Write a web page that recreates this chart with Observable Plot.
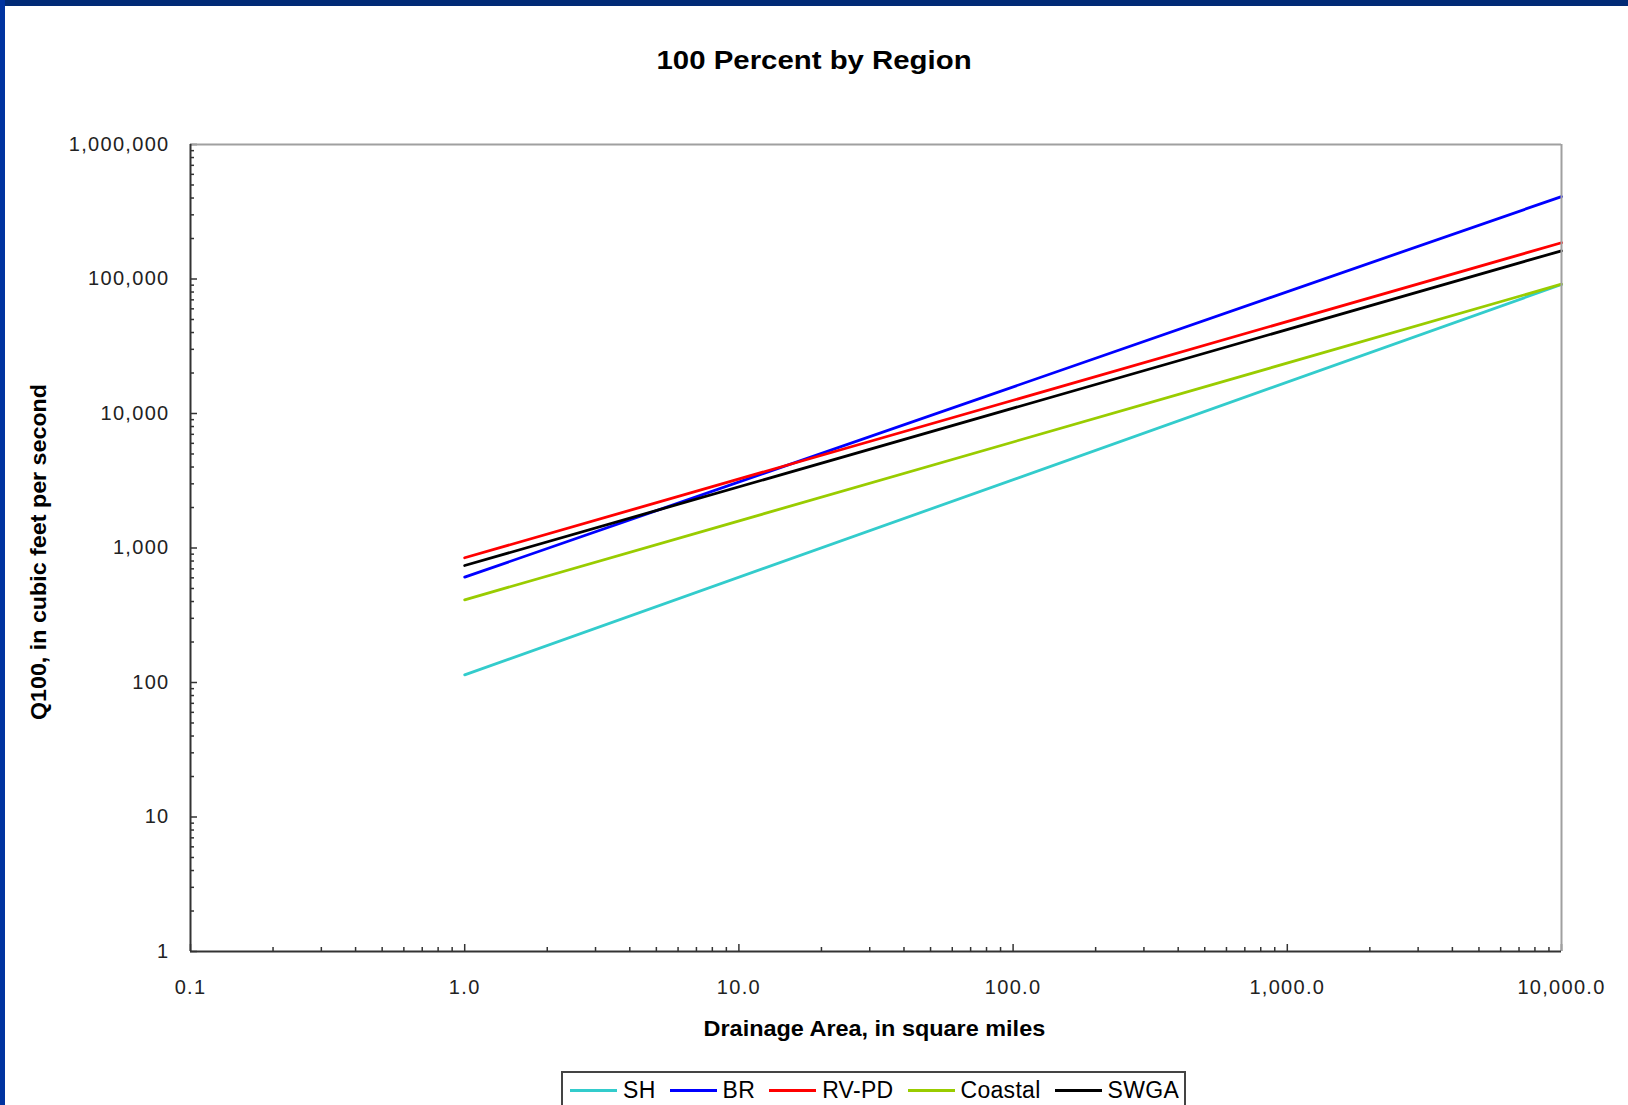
<!DOCTYPE html>
<html>
<head>
<meta charset="utf-8">
<script src="https://cdn.jsdelivr.net/npm/d3@7"></script>
<script src="https://cdn.jsdelivr.net/npm/@observablehq/plot@0.6"></script>
<style>
  html, body { margin: 0; padding: 0; background: #fff; overflow: hidden; }
  body { width: 1628px; height: 1105px; position: relative; font-family: "Liberation Sans", Arial, sans-serif; }
  #chart { position: absolute; left: 0; top: 0; }
  #chart svg text { letter-spacing: 1.3px; }
  .band-top { position: absolute; left: 0; top: 0; width: 1628px; height: 6px; background: #012a76; }
  .band-left { position: absolute; left: 0; top: 0; width: 5px; height: 1105px; background: #0033a0; }
  .title { position: absolute; top: 48px; left: 0; width: 1628px; text-align: center; font-weight: bold; font-size: 25px; line-height: 25px; color: #000; }
  .title span { display: inline-block; transform: scaleX(1.175); }
  .xlabel { position: absolute; top: 1018px; left: 0; width: 1748px; text-align: center; font-weight: bold; font-size: 22px; line-height: 22px; color: #000; }
  .xlabel span { display: inline-block; transform: scaleX(1.065); }
  .ylabel { position: absolute; left: 39px; top: 552px; width: 400px; margin-left: -200px; margin-top: -11px; text-align: center; font-weight: bold; font-size: 22px; line-height: 22px; color: #000; transform: rotate(-90deg) scaleX(1.057); }
  .legend { position: absolute; left: 561px; top: 1071px; width: 625px; height: 44px; border: 2px solid #444; box-sizing: border-box; background: #fff; display: flex; align-items: center; padding-left: 7px; padding-bottom: 5px; }
  .legend .item { display: flex; align-items: center; margin-right: 14px; font-size: 23px; letter-spacing: 0.3px; color: #000; }
  .legend .item:last-child { margin-right: 0; }
  .legend .swatch { width: 47px; height: 3px; margin-right: 6px; }
</style>
</head>
<body>
<div id="chart"></div>
<div class="band-top"></div>
<div class="band-left"></div>
<div class="title"><span>100 Percent by Region</span></div>
<div class="xlabel"><span>Drainage Area, in square miles</span></div>
<div class="ylabel">Q100, in cubic feet per second</div>
<div class="legend" id="legend"></div>
<script>
// Drainage area endpoints (square miles)
const areas = [1, 10000];
// Q100 (cfs) at those drainage areas, by region
const qSH = [114, 91000];
const qBR = [607, 410000];
const qRVPD = [846, 186000];
const qCoastal = [412, 91500];
const qSWGA = [741, 162000];

const seriesNames = ["SH", "BR", "RV-PD", "Coastal", "SWGA"];
const seriesColors = ["#33cccc", "#0000ff", "#ff0000", "#99cc00", "#000000"];
const seriesValues = [qSH, qBR, qRVPD, qCoastal, qSWGA];

const xTicks = [0.1, 1, 10, 100, 1000, 10000];
const xTickLabels = ["0.1", "1.0", "10.0", "100.0", "1,000.0", "10,000.0"];
const yTicks = [1, 10, 100, 1000, 10000, 100000, 1000000];
const yTickLabels = ["1", "10", "100", "1,000", "10,000", "100,000", "1,000,000"];

const rows = seriesNames.flatMap((s, i) =>
  areas.map((a, j) => ({series: s, area: a, q: seriesValues[i][j]}))
);

const minorTicks = (lo, hi) => {
  const out = [];
  for (let p = lo; p < hi; p++) for (let m = 2; m <= 9; m++) out.push(m * Math.pow(10, p));
  return out;
};
const xMinor = minorTicks(-1, 4);
const yMinor = minorTicks(0, 6);

const chart = Plot.plot({
  width: 1628,
  height: 1105,
  marginLeft: 190,
  marginRight: 67,
  marginTop: 144,
  marginBottom: 154,
  x: {type: "log", domain: [0.1, 10000]},
  y: {type: "log", domain: [1, 1000000]},
  color: {domain: seriesNames, range: seriesColors},
  style: {fontFamily: "'Liberation Sans', Arial, sans-serif", fontSize: "20px", color: "#222", background: "transparent", overflow: "visible"},
  marks: [
    Plot.axisX({ticks: xTicks, tickSize: 0, tickPadding: 28, tickFormat: d => xTickLabels[xTicks.indexOf(d)], label: null, fontSize: 20}),
    Plot.axisX({ticks: xTicks, tickSize: -7, fill: "none", stroke: "#333", strokeWidth: 1.5, label: null}),
    Plot.axisX({ticks: xMinor, tickSize: -4, fill: "none", stroke: "#333", strokeWidth: 1.5, label: null}),
    Plot.axisY({ticks: yTicks, tickSize: 0, tickPadding: 21, tickFormat: d => yTickLabels[yTicks.indexOf(d)], label: null, fontSize: 20}),
    Plot.axisY({ticks: yTicks, tickSize: -7, fill: "none", stroke: "#333", strokeWidth: 1.5, label: null}),
    Plot.axisY({ticks: yMinor, tickSize: -4, fill: "none", stroke: "#333", strokeWidth: 1.5, label: null}),
    Plot.line(rows, {x: "area", y: "q", z: "series", stroke: "series", strokeWidth: 2.8}),
    Plot.ruleY([1000000], {stroke: "#a0a0a0", strokeWidth: 2}),
    Plot.ruleX([10000], {stroke: "#a0a0a0", strokeWidth: 2}),
    Plot.ruleX([0.1], {stroke: "#333", strokeWidth: 2}),
    Plot.ruleY([1], {stroke: "#333", strokeWidth: 2})
  ]
});
document.getElementById("chart").appendChild(chart);

const legend = document.getElementById("legend");
seriesNames.forEach((s, i) => {
  const item = document.createElement("div");
  item.className = "item";
  const sw = document.createElement("div");
  sw.className = "swatch";
  sw.style.background = seriesColors[i];
  const lab = document.createElement("span");
  lab.textContent = s;
  item.appendChild(sw);
  item.appendChild(lab);
  legend.appendChild(item);
});
</script>
</body>
</html>
